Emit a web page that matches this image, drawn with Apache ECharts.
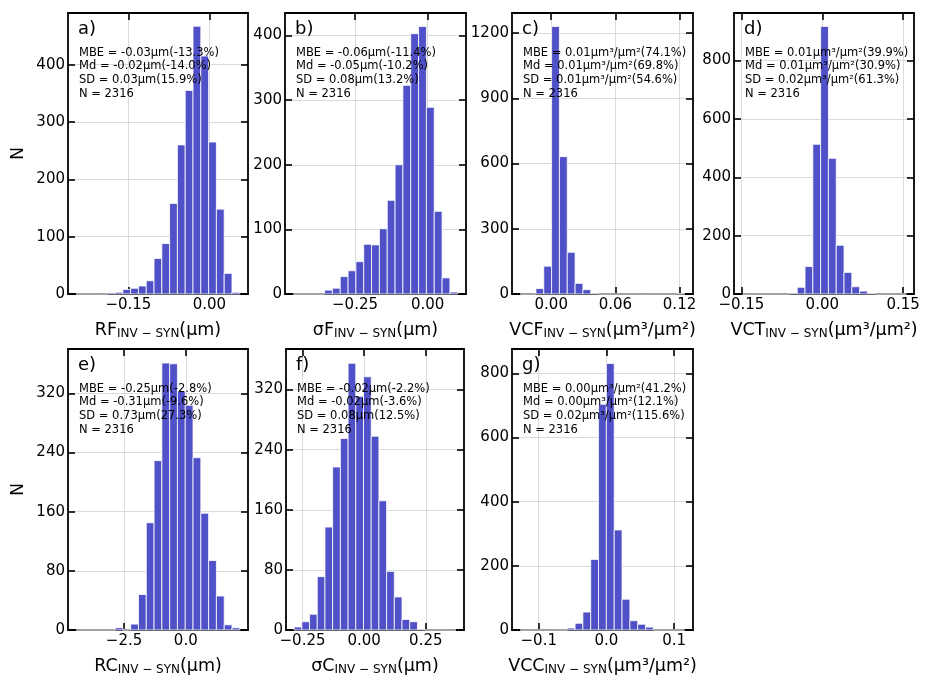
<!DOCTYPE html>
<html>
<head>
<meta charset="utf-8">
<script src="https://cdn.jsdelivr.net/npm/echarts@6/dist/echarts.min.js"></script>
<style>
html, body { margin: 0; padding: 0; background: #fff; }
#cn { width: 925px; height: 677px; }
</style>
</head>
<body>
<div id="cn"></div>
<script>
'use strict';

// histogram counts (21 bins per panel)
const countsRF  = [0, 0, 0, 0, 2, 3, 8, 10, 14, 23, 62, 88, 158, 260, 355, 467, 415, 265, 148, 36, 3];
const countsSF  = [0, 0, 0, 0, 6, 9, 27, 36, 50, 77, 76, 101, 145, 200, 323, 403, 414, 289, 128, 25, 3];
const countsVCF = [0, 0, 25, 128, 1231, 632, 192, 49, 20, 3, 0, 0, 0, 0, 0, 0, 0, 0, 0, 0, 1];
const countsVCT = [0, 0, 0, 0, 0, 0, 3, 23, 94, 513, 917, 465, 167, 74, 25, 10, 2, 0, 0, 0, 0];
const countsRC  = [0, 0, 0, 0, 0, 3, 0, 8, 48, 145, 229, 361, 360, 323, 304, 233, 158, 94, 46, 7, 3];
const countsSC  = [4, 11, 21, 71, 137, 217, 255, 355, 311, 337, 258, 172, 78, 44, 14, 11, 1, 0, 0, 0, 0];
const countsVCC = [0, 0, 0, 0, 0, 0, 6, 21, 56, 220, 704, 831, 312, 96, 29, 18, 9, 0, 0, 0, 0];

// left edge of first bin and bin width
const binStart = [-0.247, -0.4624, -0.029, -0.1477, -4.44, -0.284, -0.1274];
const binWidth = [0.01445, 0.02694, 0.00733, 0.01446, 0.3156, 0.03126, 0.01157];

// axis extents and tick values
const xRange = [[-0.262, 0.0717], [-0.4907, 0.1317], [-0.0367, 0.1326], [-0.1637, 0.170], [-4.77, 2.52], [-0.317, 0.405], [-0.1395, 0.1278]];
const xTicks = [[-0.15, 0], [-0.25, 0], [0, 0.06, 0.12], [-0.15, 0, 0.15], [-2.5, 0], [-0.25, 0, 0.25], [-0.1, 0, 0.1]];
const xDigits = [2, 2, 2, 2, 1, 2, 1];
const yMax = [490, 435, 1293, 963, 380, 374, 876];
const yTicks = [
    [0, 100, 200, 300, 400],
    [0, 100, 200, 300, 400],
    [0, 300, 600, 900, 1200],
    [0, 200, 400, 600, 800],
    [0, 80, 160, 240, 320],
    [0, 80, 160, 240, 320],
    [0, 200, 400, 600, 800]
];

const panelTag = ['a)', 'b)', 'c)', 'd)', 'e)', 'f)', 'g)'];
const xVar = ['RF', 'σF', 'VCF', 'VCT', 'RC', 'σC', 'VCC'];
const xUnit = ['(μm)', '(μm)', '(μm³/μm²)', '(μm³/μm²)', '(μm)', '(μm)', '(μm³/μm²)'];
const stats = [
    ['MBE = -0.03μm(-13.3%)', 'Md = -0.02μm(-14.0%)', 'SD = 0.03μm(15.9%)', 'N = 2316'],
    ['MBE = -0.06μm(-11.4%)', 'Md = -0.05μm(-10.2%)', 'SD = 0.08μm(13.2%)', 'N = 2316'],
    ['MBE = 0.01μm³/μm²(74.1%)', 'Md = 0.01μm³/μm²(69.8%)', 'SD = 0.01μm³/μm²(54.6%)', 'N = 2316'],
    ['MBE = 0.01μm³/μm²(39.9%)', 'Md = 0.01μm³/μm²(30.9%)', 'SD = 0.02μm³/μm²(61.3%)', 'N = 2316'],
    ['MBE = -0.25μm(-2.8%)', 'Md = -0.31μm(-9.6%)', 'SD = 0.73μm(27.3%)', 'N = 2316'],
    ['MBE = -0.02μm(-2.2%)', 'Md = -0.02μm(-3.6%)', 'SD = 0.08μm(12.5%)', 'N = 2316'],
    ['MBE = 0.00μm³/μm²(41.2%)', 'Md = 0.00μm³/μm²(12.1%)', 'SD = 0.02μm³/μm²(115.6%)', 'N = 2316']
];
const allCounts = [countsRF, countsSF, countsVCF, countsVCT, countsRC, countsSC, countsVCC];

// layout: [left, top, width, height] of each plot frame
const boxes = [[68, 13, 180, 281], [285, 13, 181, 281], [512, 13, 181, 281], [734, 13, 180, 281],
               [68, 349, 180, 282], [286, 349, 178, 282], [512, 349, 181, 282]];

const FONT = 'DejaVu Sans';
const BAR = '#5050c8';

const fmtX = d => v => (v < -1e-9 ? '\u2212' : '') + Math.abs(v).toFixed(d);
const fmtY = v => String(Math.round(v));

const grid = [], xAxis = [], yAxis = [], series = [], graphic = [];

boxes.forEach((b, i) => {
    grid.push({ left: b[0], top: b[1], width: b[2], height: b[3], containLabel: false });

    const tick = vals => ({ show: true, inside: true, length: 7, customValues: vals, lineStyle: { color: '#000', width: 1.6 } });
    const frame = { show: true, onZero: false, lineStyle: { color: '#000', width: 1.8 } };

    xAxis.push({
        type: 'value', gridIndex: i, min: xRange[i][0], max: xRange[i][1], position: 'bottom',
        axisLine: frame, axisTick: tick(xTicks[i]),
        axisLabel: { customValues: xTicks[i], formatter: fmtX(xDigits[i]), color: '#000', fontSize: 15, fontFamily: FONT, margin: 4 },
        splitLine: { show: true, lineStyle: { color: '#dadada', width: 1 } },
        name: `{m|${xVar[i]}}{s|INV \u2212 SYN}{m|${xUnit[i]}}`,
        nameLocation: 'middle', nameGap: 27,
        nameTextStyle: {
            rich: {
                m: { fontSize: 17.5, fontFamily: FONT, color: '#000', verticalAlign: 'top' },
                s: { fontSize: 12, fontFamily: FONT, color: '#000', verticalAlign: 'top', padding: [7, 0, 0, 0] }
            }
        }
    });
    yAxis.push({
        type: 'value', gridIndex: i, min: 0, max: yMax[i], position: 'left',
        axisLine: frame, axisTick: tick(yTicks[i]),
        axisLabel: { customValues: yTicks[i], formatter: fmtY, color: '#000', fontSize: 15, fontFamily: FONT, margin: 3 },
        splitLine: { show: true, lineStyle: { color: '#dadada', width: 1 } },
        name: i % 4 === 0 ? 'N' : '', nameLocation: 'middle', nameGap: 41,
        nameTextStyle: { fontSize: 17.5, fontFamily: FONT, color: '#000' }
    });

    series.push({
        type: 'custom', xAxisIndex: i, yAxisIndex: i, z: 2,
        encode: { x: [0, 1], y: 2 },
        data: allCounts[i].map((c, k) => [binStart[i] + k * binWidth[i], binStart[i] + (k + 1) * binWidth[i], c]),
        renderItem: (params, api) => {
            const p0 = api.coord([api.value(0), api.value(2)]);
            const p1 = api.coord([api.value(1), 0]);
            return {
                type: 'rect',
                shape: { x: p0[0], y: p0[1], width: p1[0] - p0[0], height: p1[1] - p0[1] },
                style: { fill: BAR, stroke: '#fff', lineWidth: 0.8 }
            };
        }
    });

    graphic.push({ type: 'text', left: b[0] + 10, top: b[1] + 7, z: 10, style: { text: panelTag[i], fontSize: 18, fontFamily: FONT, fill: '#000' } });
    graphic.push({ type: 'text', left: b[0] + 11, top: b[1] + 33, z: 10, style: { text: stats[i].join('\n'), fontSize: 11.5, lineHeight: 13.6, fontFamily: FONT, fill: '#000' } });
});

// top / right copies of the axes, only for the frame and the inward ticks
boxes.forEach((b, i) => {
    xAxis.push({
        type: 'value', gridIndex: i, min: xRange[i][0], max: xRange[i][1], position: 'top',
        axisLine: { show: true, onZero: false, lineStyle: { color: '#000', width: 1.8 } },
        axisTick: { show: true, inside: true, length: 7, customValues: xTicks[i], lineStyle: { color: '#000', width: 1.6 } },
        axisLabel: { show: false }, splitLine: { show: false }
    });
    yAxis.push({
        type: 'value', gridIndex: i, min: 0, max: yMax[i], position: 'right',
        axisLine: { show: true, onZero: false, lineStyle: { color: '#000', width: 1.8 } },
        axisTick: { show: true, inside: true, length: 7, customValues: yTicks[i], lineStyle: { color: '#000', width: 1.6 } },
        axisLabel: { show: false }, splitLine: { show: false }
    });
});

const chart = echarts.init(document.getElementById('cn'));
chart.setOption({
    animation: false,
    backgroundColor: '#fff',
    grid: grid,
    xAxis: xAxis,
    yAxis: yAxis,
    series: series,
    graphic: graphic
});
</script>
</body>
</html>
